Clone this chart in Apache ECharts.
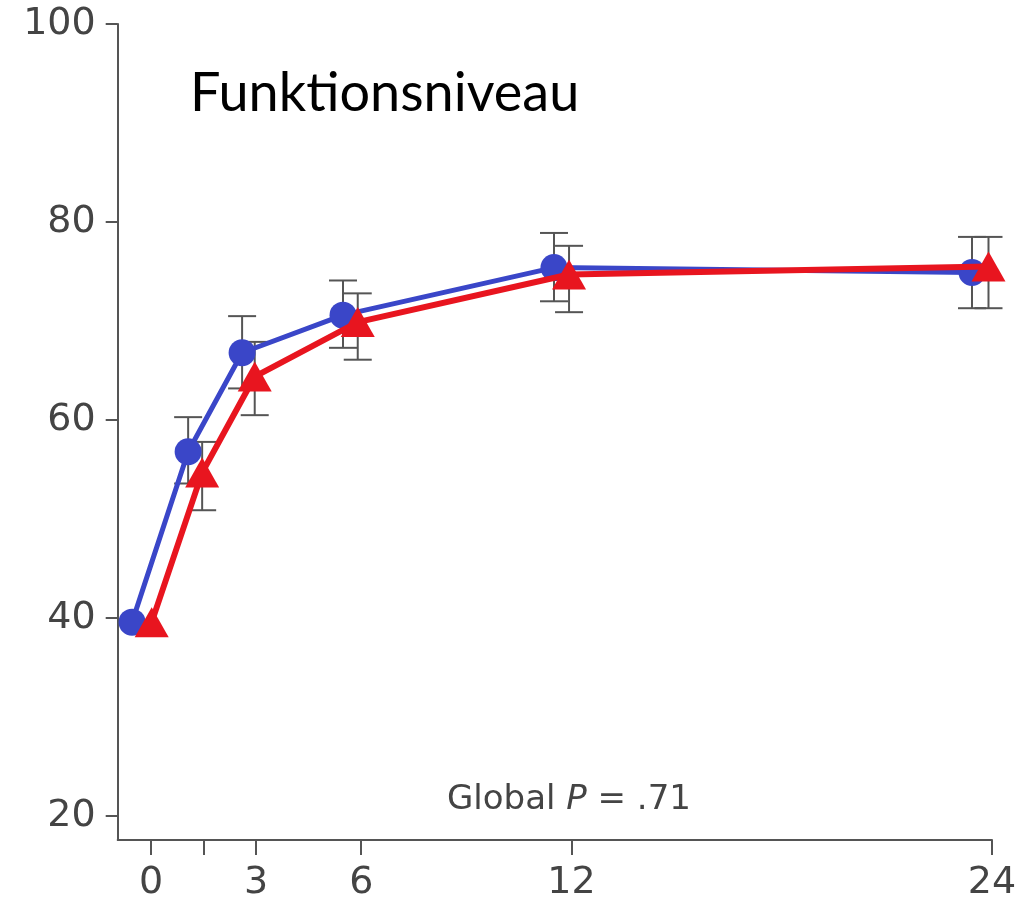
<!DOCTYPE html>
<html>
<head>
<meta charset="utf-8">
<script src="https://cdn.jsdelivr.net/npm/echarts@6/dist/echarts.min.js"></script>
<style>
html,body{margin:0;padding:0;background:#fff;}
#chart{width:1025px;height:906px;}
</style>
</head>
<body>
<div id="chart"></div>
<script>
// Months (plotted positions, blue dodged left) and values
var xTicks = [0, 1.5, 3, 6, 12, 24];
var xLabels = [0, 3, 6, 12, 24];
var yLabels = [20, 40, 60, 80, 100];

var blueX = [-0.54, 1.06, 2.6, 5.48, 11.5, 23.43];
var blueY = [39.6, 56.8, 66.8, 70.6, 75.4, 74.9];
var blueLow = [null, 53.6, 63.2, 67.3, 72.0, 71.3];
var blueHigh = [null, 60.3, 70.5, 74.1, 78.9, 78.5];

var redX = [0.02, 1.46, 2.96, 5.9, 11.93, 23.9];
var redY = [39.6, 54.7, 64.4, 69.9, 74.7, 75.5];
var redLow = [null, 50.9, 60.5, 66.1, 70.9, 71.3];
var redHigh = [null, 57.8, 67.9, 72.8, 77.6, 78.5];

var titleText = 'Funktionsniveau';

function pairs(xs, ys) { return xs.map(function (x, i) { return [x, ys[i]]; }); }
function errData(xs, lo, hi) {
  var out = [];
  xs.forEach(function (x, i) { if (lo[i] != null && hi[i] != null) out.push([x, lo[i], hi[i]]); });
  return out;
}

function errorBarRender(params, api) {
  var x = api.value(0);
  var lo = api.coord([x, api.value(1)]);
  var hi = api.coord([x, api.value(2)]);
  var hw = 14;
  var st = { stroke: '#555', lineWidth: 2 };
  return {
    type: 'group',
    children: [
      { type: 'line', shape: { x1: hi[0], y1: hi[1], x2: lo[0], y2: lo[1] }, style: st },
      { type: 'line', shape: { x1: hi[0] - hw, y1: hi[1], x2: hi[0] + hw, y2: hi[1] }, style: st },
      { type: 'line', shape: { x1: lo[0] - hw, y1: lo[1], x2: lo[0] + hw, y2: lo[1] }, style: st }
    ]
  };
}

var chart = echarts.init(document.getElementById('chart'), null, { renderer: 'canvas' });
var axisFont = { fontFamily: 'DejaVu Sans', fontSize: 38, color: '#444' };

chart.setOption({
  animation: false,
  backgroundColor: '#fff',
  grid: { left: 117.7, right: 33, top: 24, bottom: 66, containLabel: false },
  xAxis: {
    type: 'value', min: -0.95, max: 24,
    splitLine: { show: false },
    axisLine: { show: true, onZero: false, lineStyle: { color: '#555', width: 2 } },
    axisTick: { show: true, length: 15, lineStyle: { color: '#555', width: 2 }, customValues: xTicks },
    axisLabel: Object.assign({ margin: 24, customValues: xLabels }, axisFont)
  },
  yAxis: {
    type: 'value', min: 17.6, max: 100,
    splitLine: { show: false },
    axisLine: { show: true, onZero: false, lineStyle: { color: '#555', width: 2 } },
    axisTick: { show: true, length: 12, lineStyle: { color: '#555', width: 2 }, customValues: yLabels },
    axisLabel: Object.assign({ margin: 22, customValues: yLabels }, axisFont)
  },
  series: [
    { type: 'custom', renderItem: errorBarRender, data: errData(blueX, blueLow, blueHigh), z: 1, silent: true },
    { type: 'custom', renderItem: errorBarRender, data: errData(redX, redLow, redHigh), z: 1, silent: true },
    {
      type: 'line', data: pairs(blueX, blueY), z: 3,
      symbol: 'circle', symbolSize: 27, showAllSymbol: true,
      lineStyle: { color: '#3a46c8', width: 5 },
      itemStyle: { color: '#3a46c8' }
    },
    {
      type: 'line', data: pairs(redX, redY), z: 4,
      symbol: 'triangle', symbolSize: [34, 30], showAllSymbol: true,
      lineStyle: { color: '#e8151f', width: 6 },
      itemStyle: { color: '#e8151f' }
    }
  ],
  graphic: [
    {
      type: 'text', left: 190, top: 67,
      style: { text: titleText, font: '54px Lato', fill: '#000' }
    },
    {
      type: 'text', left: 447, top: 783,
      style: {
        text: '{a|Global }{b|P}{a| = .71}',
        rich: {
          a: { fontFamily: 'DejaVu Sans', fontSize: 34, fill: '#444', color: '#444' },
          b: { fontFamily: 'DejaVu Sans', fontStyle: 'italic', fontSize: 34, fill: '#444', color: '#444' }
        }
      }
    }
  ]
});
</script>
</body>
</html>
